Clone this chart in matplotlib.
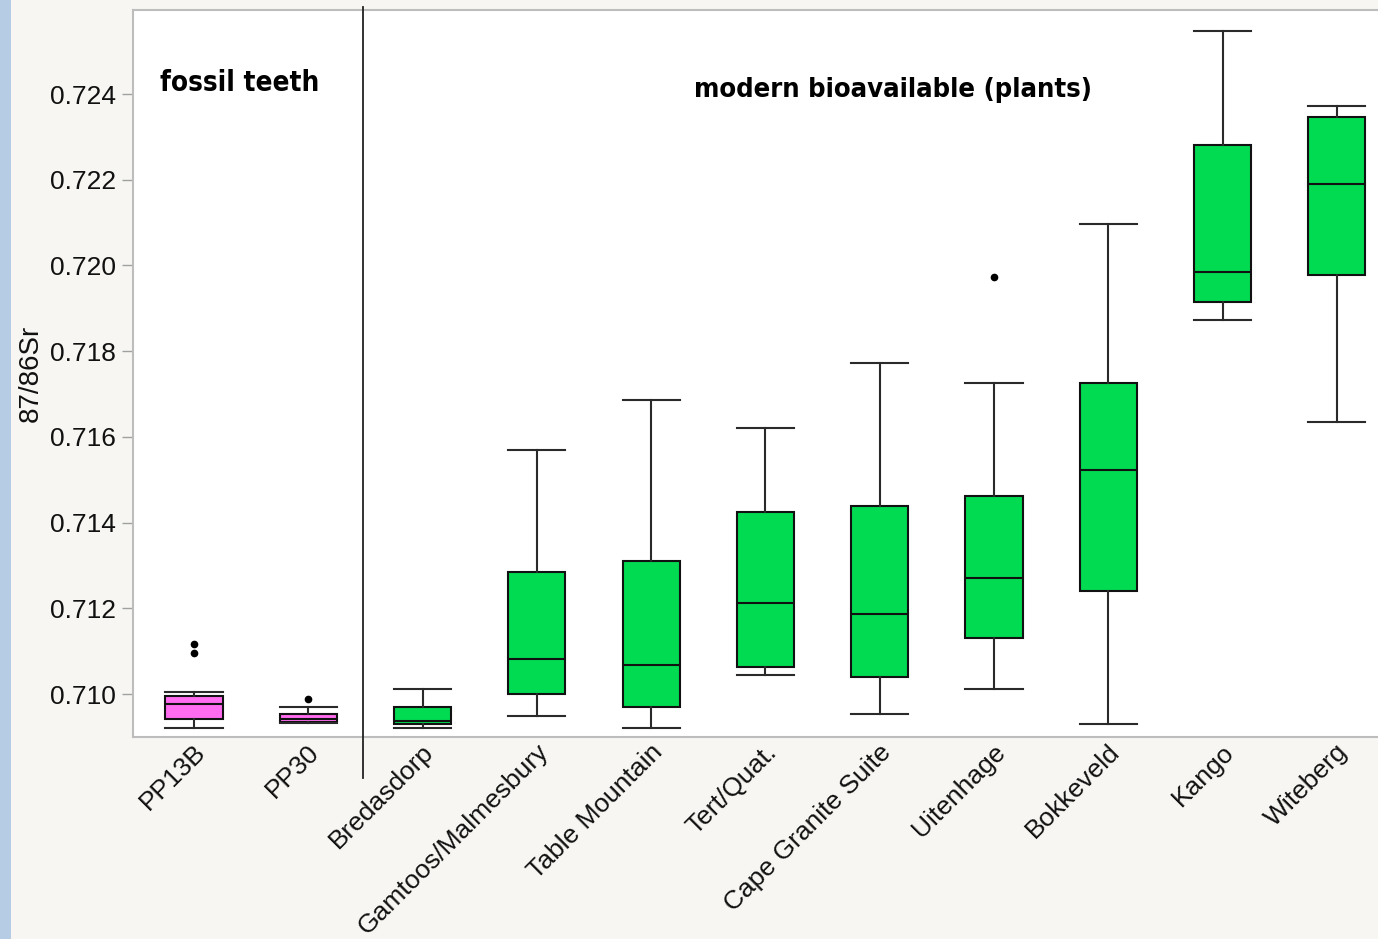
import matplotlib
matplotlib.use("Agg")
import matplotlib.pyplot as plt
import matplotlib.transforms as mtransforms
from matplotlib.patches import Rectangle

# ---------------- data ----------------
categories = ["PP13B", "PP30", "Bredasdorp", "Gamtoos/Malmesbury", "Table Mountain",
              "Tert/Quat.", "Cape Granite Suite", "Uitenhage", "Bokkeveld", "Kango", "Witeberg"]
group = ["fossil", "fossil", "modern", "modern", "modern", "modern", "modern",
         "modern", "modern", "modern", "modern"]
whislo = [0.70922, 0.70933, 0.70922, 0.70949, 0.70922, 0.71044, 0.70953, 0.71013, 0.70930, 0.71872, 0.71635]
q1     = [0.70942, 0.70934, 0.70930, 0.71001, 0.70969, 0.71064, 0.71040, 0.71130, 0.71241, 0.71915, 0.71978]
med    = [0.70977, 0.70943, 0.70938, 0.71083, 0.71068, 0.71212, 0.71188, 0.71271, 0.71522, 0.71985, 0.72190]
q3     = [0.70996, 0.70953, 0.70969, 0.71286, 0.71310, 0.71424, 0.71440, 0.71463, 0.71727, 0.72280, 0.72347]
whishi = [0.71005, 0.70970, 0.71012, 0.71569, 0.71687, 0.71620, 0.71773, 0.71727, 0.72096, 0.72546, 0.72371]
fliers = [[0.71118, 0.71095], [0.70989], [], [], [], [], [], [0.71974], [], [], []]
yticks = [0.710, 0.712, 0.714, 0.716, 0.718, 0.720, 0.722, 0.724]
ylabel = "87/86Sr"
label_fossil = "fossil teeth"
label_modern = "modern bioavailable (plants)"

colors = {"fossil": "#FF6CF0", "modern": "#00DB52"}

# ---------------- figure ----------------
W, H = 1378, 939
fig = plt.figure(figsize=(W / 100, H / 100), dpi=100)
fig.patch.set_facecolor("#F7F6F2")
fig.patches.append(Rectangle((0, 0), 11 / W, 1, transform=fig.transFigure,
                             facecolor="#B6CBE4", edgecolor="none", zorder=0))

ax = fig.add_axes([133 / W, 1 - 737 / H, (1378 - 133) / W, (737 - 10) / H])
ax.set_facecolor("white")

stats = []
for i, c in enumerate(categories):
    stats.append(dict(label=c, whislo=whislo[i], q1=q1[i], med=med[i],
                      q3=q3[i], whishi=whishi[i], fliers=fliers[i]))

positions = list(range(len(categories)))
bp = ax.bxp(stats, positions=positions, widths=0.5, patch_artist=True,
            showfliers=True,
            boxprops=dict(linewidth=1.5, edgecolor="#111111"),
            medianprops=dict(color="#111111", linewidth=1.5),
            whiskerprops=dict(color="#2A2A2A", linewidth=1.5),
            capprops=dict(color="#2A2A2A", linewidth=1.5),
            capwidths=0.5,
            flierprops=dict(marker="o", markerfacecolor="black", markeredgecolor="black",
                            markersize=4.5, linestyle="none"))
for patch, g in zip(bp["boxes"], group):
    patch.set_facecolor(colors[g])

ax.set_xlim(-0.534, 10.36)
ax.set_ylim(0.70900, 0.72596)

ax.set_yticks(yticks)
ax.set_yticklabels([f"{t:.3f}" for t in yticks])
ax.tick_params(axis="y", direction="out", length=8, width=1, color="#A0A0A0",
               labelsize=19, pad=4, labelcolor="#111111")
ax.tick_params(axis="x", length=0, labelsize=19, labelcolor="#111111", pad=2)

ax.set_xticks(positions)
ax.set_xticklabels(categories, rotation=45, ha="right", va="top", rotation_mode="anchor",
                   fontfamily="Liberation Sans")
offset = mtransforms.ScaledTranslation(-1 / 100, 0 / 100, fig.dpi_scale_trans)
for lab in ax.get_xticklabels():
    lab.set_transform(lab.get_transform() + offset)
for lab in ax.get_yticklabels():
    lab.set_fontfamily("Liberation Sans")

ax.set_ylabel(ylabel, fontsize=20, fontfamily="Liberation Sans", labelpad=5, color="#111111")

for side in ["left", "bottom", "top"]:
    ax.spines[side].set_color("#BDBDBD")
    ax.spines[side].set_linewidth(1.5)
ax.spines["right"].set_visible(False)

# separator between fossil and modern groups
sep_x = 1.48
trans = mtransforms.blended_transform_factory(ax.transData, ax.transAxes)
ax.plot([sep_x, sep_x], [-0.056, 1.004], color="#222222", linewidth=1.3,
        transform=trans, clip_on=False, zorder=5)

ax.text(0.40, 0.72426, label_fossil, fontsize=20, fontweight="heavy", ha="center", va="center",
        fontfamily="DejaVu Sans", fontstretch="condensed", color="black")
ax.text(6.115, 0.72409, label_modern, fontsize=19.6, fontweight="heavy", ha="center", va="center",
        fontfamily="DejaVu Sans", fontstretch="condensed", color="black")

fig.savefig("out.png", dpi=100, facecolor=fig.get_facecolor())
